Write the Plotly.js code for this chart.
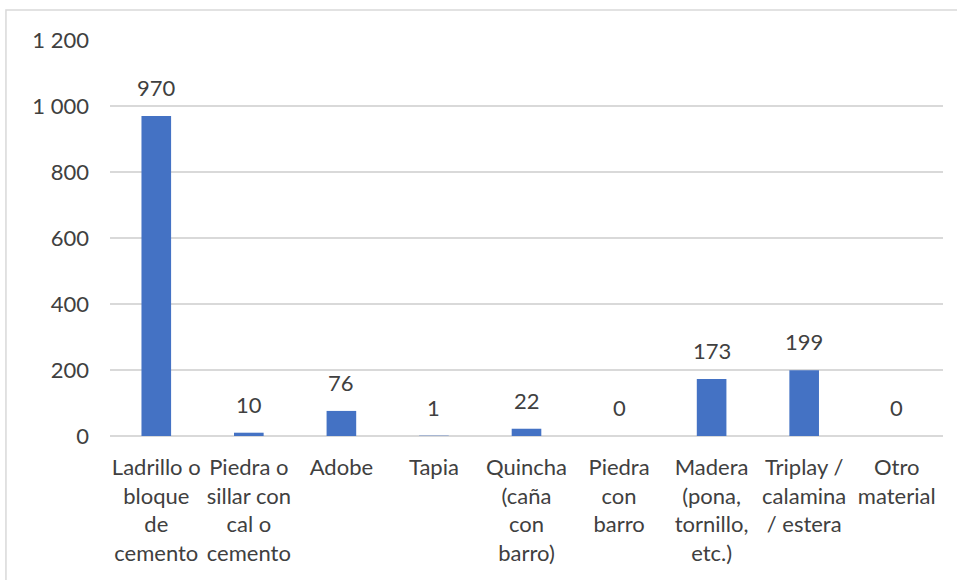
<!DOCTYPE html>
<html>
<head>
<meta charset="utf-8">
<script src="https://cdn.plot.ly/plotly-3.0.1.min.js"></script>
<style>html,body{margin:0;padding:0;background:#fff;}#chart{width:957px;height:580px;}</style>
</head>
<body>
<div id="chart"></div>
<script>
const categories = ["Ladrillo o bloque de cemento","Piedra o sillar con cal o cemento","Adobe","Tapia","Quincha (caña con barro)","Piedra con barro","Madera (pona, tornillo, etc.)","Triplay / calamina / estera","Otro material"];
const tickLabels = ["Ladrillo o<br>bloque<br>de<br>cemento","Piedra o<br>sillar con<br>cal o<br>cemento","Adobe","Tapia","Quincha<br>(caña<br>con<br>barro)","Piedra<br>con<br>barro","Madera<br>(pona,<br>tornillo,<br>etc.)","Triplay /<br>calamina<br>/ estera","Otro<br>material"];
const values = [970, 10, 76, 1, 22, 0, 173, 199, 0];
const yTickVals = [0, 200, 400, 600, 800, 1000, 1200];
const yTickText = ["0", "200", "400", "600", "800", "1 000", "1 200"];

const FONT = "Lato, 'Liberation Sans', Arial, sans-serif";
const TXT = "#404040";

const trace = {
  type: "bar",
  x: categories,
  y: values,
  marker: {color: "#4472C4"},
  hoverinfo: "skip"
};

const annotations = categories.map((c, i) => ({
  x: c, y: values[i], xref: "x", yref: "y",
  text: String(values[i]), showarrow: false,
  yanchor: "bottom", yshift: 13,
  font: {family: FONT, size: 22, color: TXT}
}));

const layout = {
  width: 957, height: 580,
  margin: {l: 110, r: 14, t: 40, b: 144},
  paper_bgcolor: "#fff", plot_bgcolor: "#fff",
  showlegend: false,
  bargap: 0.68,
  font: {family: FONT, size: 22, color: TXT},
  xaxis: {
    type: "category",
    tickvals: categories, ticktext: tickLabels,
    ticks: "", showgrid: false, showline: false, zeroline: false,
    tickfont: {family: FONT, size: 22, color: TXT},
    ticklabelstandoff: 16,
    fixedrange: true
  },
  yaxis: {
    range: [0, 1200],
    tickvals: yTickVals, ticktext: yTickText,
    ticks: "", showgrid: true, gridcolor: "#d9d9d9", gridwidth: 1.5,
    zeroline: true, zerolinecolor: "#d9d9d9", zerolinewidth: 1.5,
    showline: false,
    tickfont: {family: FONT, size: 22, color: TXT},
    ticklabelstandoff: 20,
    fixedrange: true
  },
  annotations: annotations,
  shapes: [{
    type: "rect", xref: "paper", yref: "paper",
    x0: -0.1249, x1: 1.03, y0: -0.40, y1: 1.0758,
    line: {color: "#d9d9d9", width: 1.5}, fillcolor: "rgba(0,0,0,0)", layer: "below"
  }]
};

Plotly.newPlot("chart", [trace], layout, {displayModeBar: false, staticPlot: true});
</script>
</body>
</html>
